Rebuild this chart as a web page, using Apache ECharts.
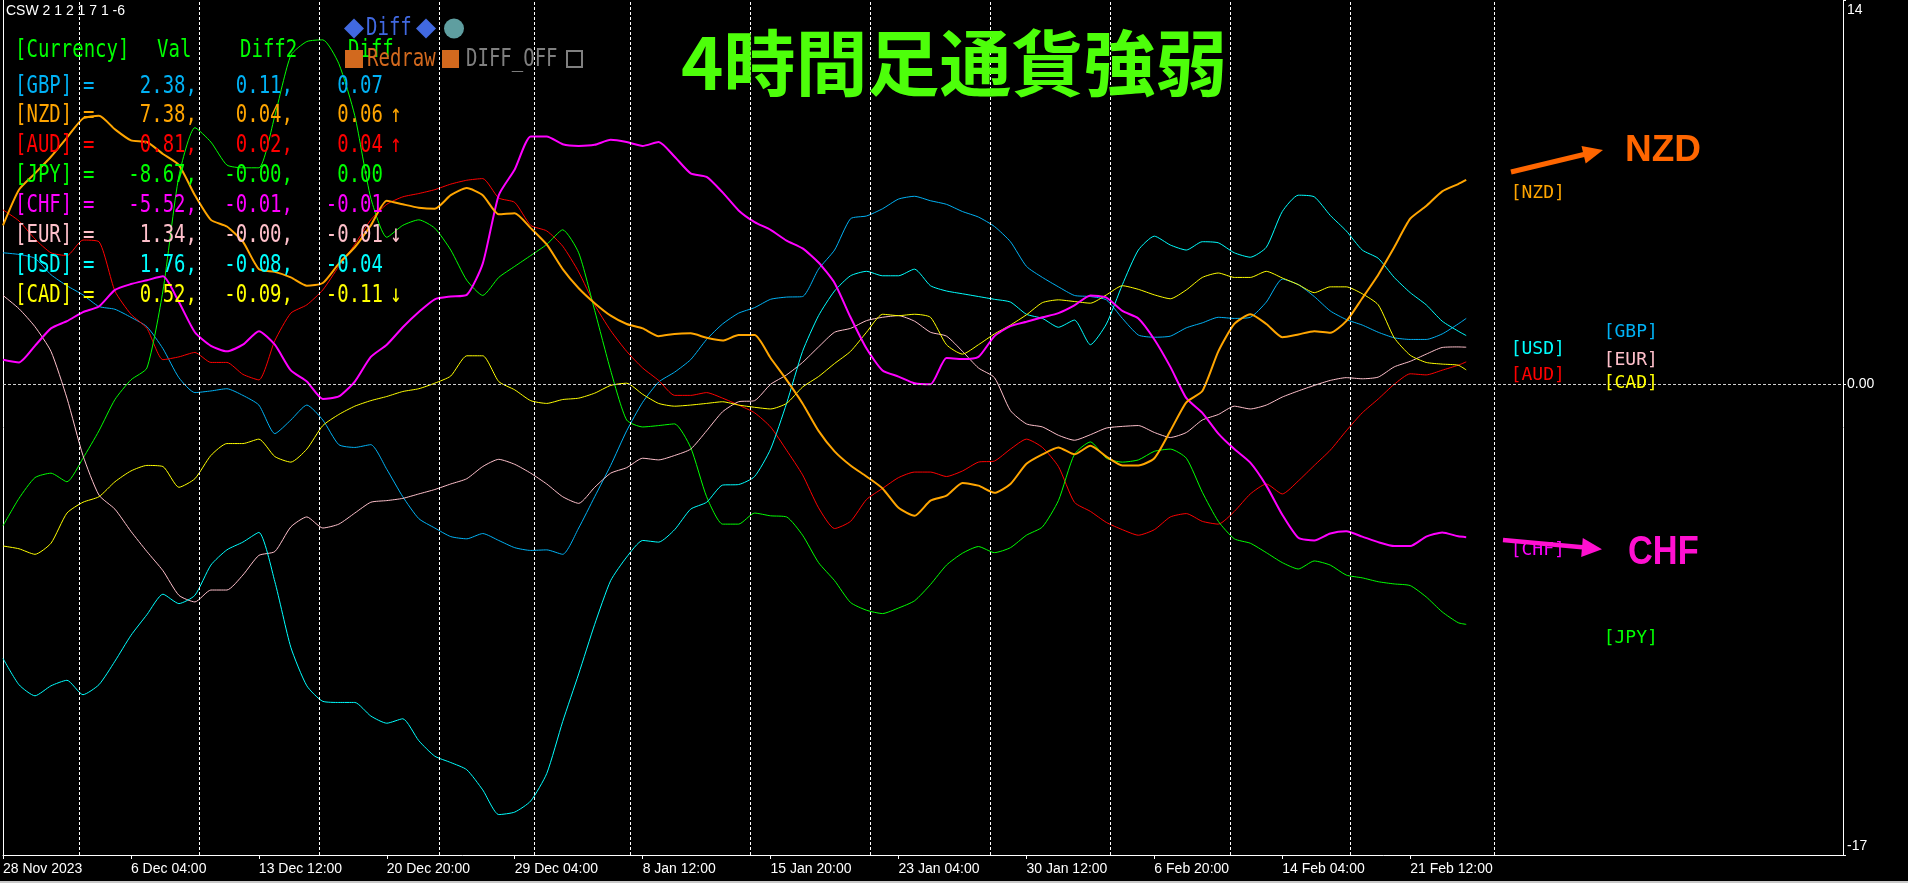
<!DOCTYPE html>
<html><head><meta charset="utf-8">
<script src="https://cdn.jsdelivr.net/npm/echarts@6/dist/echarts.min.js"></script>
<style>html,body{margin:0;padding:0;background:#000;overflow:hidden}#c{width:1908px;height:883px}</style>
</head><body><div id="c"></div>
<script>
// ---- data (bar index of 4h bars, first bar = 28 Nov 20:00) ----
const xBars = [0,4,8,12,16,20,24,28,32,36,40,44,48,52,56,60,64,68,72,76,80,84,88,92,96,100,104,108,112,116,120,124,128,132,136,140,144,148,152,156,160,164,168,172,176,180,184,188,192,196,200,204,208,212,216,220,224,228,232,236,240,244,248,252,256,260,264,268,272,276,280,284,288,292,296,300,304,308,312,316,320,324,328,332,336,340,344,348,352,356,360,364,366];
const xLabels = ['28 Nov 2023','6 Dec 04:00','13 Dec 12:00','20 Dec 20:00','29 Dec 04:00','8 Jan 12:00','15 Jan 20:00','23 Jan 04:00','30 Jan 12:00','6 Feb 20:00','14 Feb 04:00','21 Feb 12:00'];
const labelBars = [0,32,64,96,128,160,192,224,256,288,320,352];
const weekBars = [19,49,79,109,133,157,187,217,247,277,307,337,373];
const yTicks = [-17, 0, 13.88];

const GBP = [4.75,4.69,4.55,3.96,3.56,3.23,2.81,2.71,2.42,2.08,1.29,0.24,-0.30,-0.24,-0.16,-0.40,-0.75,-1.78,-1.29,
 -0.75,-1.29,-2.18,-2.28,-2.18,-3.07,-4.06,-4.85,-5.19,-5.50,-5.58,-5.39,-5.64,-5.90,-6.00,-5.98,-6.14,-5.19,
 -4.06,-2.93,-1.68,-0.65,0.08,0.44,0.89,1.62,2.18,2.57,2.77,3.07,3.15,3.17,4.16,4.85,5.98,6.08,6.34,
 6.69,6.79,6.63,6.50,6.24,6.04,5.70,5.15,4.26,3.86,3.52,3.21,3.17,3.05,2.38,1.78,1.70,1.74,
 2.04,2.22,2.42,2.38,2.42,2.97,3.80,3.60,3.17,2.65,2.34,2.14,1.88,1.68,1.62,1.62,1.82,2.18,2.38];
const NZD = [5.74,7.03,7.62,8.22,8.91,9.60,9.70,9.21,8.81,8.75,8.32,7.92,6.83,5.94,5.70,5.15,4.16,4.06,3.86,
 3.56,3.66,4.36,4.95,5.74,6.63,6.50,6.38,6.34,6.83,7.09,6.83,6.14,6.18,5.64,5.05,4.16,3.47,
 2.93,2.48,2.18,2.02,1.74,1.82,1.84,1.68,1.58,1.78,1.78,0.95,0.16,-0.69,-1.68,-2.42,-2.93,-3.33,-3.76,
 -4.46,-4.75,-4.20,-4.02,-3.56,-3.66,-3.92,-3.60,-2.87,-2.53,-2.28,-2.53,-2.22,-2.61,-2.93,-2.93,-2.67,-1.68,
 -0.65,-0.24,1.19,2.18,2.53,2.18,1.70,1.80,1.92,1.86,2.28,3.11,3.96,4.95,5.98,6.44,6.97,7.23,7.38];
const AUD = [6.30,5.90,5.25,4.75,4.65,5.21,5.15,3.37,2.53,2.02,0.89,0.99,1.15,0.79,0.79,0.36,0.16,1.58,2.57,
 2.87,3.41,4.26,5.05,5.94,6.50,6.77,6.89,7.03,7.23,7.37,7.43,6.73,6.57,5.74,5.54,4.99,4.06,
 2.87,1.94,1.19,0.59,0.14,-0.40,-0.40,-0.30,-0.50,-0.75,-1.03,-1.54,-2.38,-3.27,-4.46,-5.21,-4.95,-4.16,-3.76,
 -3.37,-3.17,-3.17,-3.33,-3.13,-2.81,-2.77,-2.34,-1.98,-2.28,-2.97,-4.26,-4.59,-4.99,-5.25,-5.45,-5.25,-4.79,
 -4.67,-4.95,-5.05,-4.59,-3.96,-3.60,-3.96,-3.49,-2.93,-2.38,-1.68,-1.03,-0.53,0.00,0.38,0.34,0.51,0.69,0.81];
const JPY = [-5.11,-4.12,-3.37,-3.21,-3.52,-2.67,-1.68,-0.55,0.16,0.59,3.37,7.52,9.27,8.75,7.92,7.82,7.82,9.70,11.88,
 12.38,12.44,11.58,9.70,6.73,5.31,5.74,5.94,5.64,4.85,3.76,3.21,3.86,4.26,4.65,5.05,5.58,4.75,
 2.67,0.50,-1.29,-1.54,-1.49,-1.43,-2.28,-4.06,-5.05,-5.05,-4.65,-4.75,-4.79,-5.45,-6.44,-7.09,-7.88,-8.16,-8.28,
 -8.08,-7.82,-7.23,-6.53,-6.10,-5.86,-6.08,-5.90,-5.45,-5.15,-4.20,-2.53,-2.08,-2.67,-2.81,-2.73,-2.42,-2.34,
 -2.67,-3.90,-4.95,-5.58,-5.74,-6.08,-6.44,-6.67,-6.38,-6.53,-6.89,-6.99,-7.13,-7.21,-7.27,-7.68,-8.22,-8.61,-8.67];
const CHF = [0.89,0.79,1.39,2.02,2.28,2.61,2.81,3.41,3.62,3.76,3.90,2.97,1.88,1.39,1.19,1.43,1.92,1.43,0.50,
 0.10,-0.53,-0.44,0.10,0.99,1.43,2.06,2.61,3.07,3.17,3.23,4.36,6.83,7.76,8.95,8.95,8.67,8.61,
 8.65,8.83,8.75,8.61,8.75,8.22,7.62,7.49,6.93,6.28,5.86,5.58,5.19,4.91,4.40,3.66,2.42,1.29,0.50,
 0.28,0.04,0.00,0.95,0.91,0.99,1.74,2.10,2.26,2.42,2.57,2.85,3.21,3.13,2.65,2.38,1.62,0.63,
 -0.50,-1.03,-1.78,-2.34,-2.83,-3.66,-4.71,-5.54,-5.64,-5.39,-5.31,-5.50,-5.70,-5.84,-5.84,-5.50,-5.35,-5.49,-5.52];
const EUR = [3.21,2.73,2.08,1.19,-0.50,-2.57,-4.00,-4.51,-5.31,-6.04,-6.73,-7.62,-7.86,-7.43,-7.43,-6.89,-6.18,-6.04,-5.15,
 -4.79,-5.19,-5.05,-4.65,-4.26,-4.20,-4.12,-3.96,-3.80,-3.60,-3.41,-2.97,-2.71,-2.89,-3.21,-3.60,-4.06,-4.30,
 -3.72,-3.21,-3.01,-2.67,-2.73,-2.57,-2.34,-1.68,-0.99,-0.63,-0.59,0.00,0.34,0.79,1.35,1.88,2.02,2.30,2.42,
 2.48,2.28,1.88,1.74,1.19,0.59,0.24,-0.95,-1.43,-1.54,-1.84,-2.02,-1.82,-1.58,-1.52,-1.49,-1.74,-1.92,
 -1.74,-1.29,-1.09,-0.79,-0.89,-0.75,-0.46,-0.24,-0.04,0.14,0.24,0.20,0.26,0.63,0.83,1.09,1.33,1.35,1.34];
const USD = [-9.90,-10.85,-11.25,-10.89,-10.69,-11.21,-10.85,-10.00,-9.07,-8.32,-7.58,-7.92,-7.62,-6.53,-5.98,-5.70,-5.35,-7.13,-9.50,
 -10.89,-11.45,-11.49,-11.49,-11.98,-12.24,-12.08,-12.87,-13.43,-13.66,-13.92,-14.65,-15.54,-15.45,-15.05,-14.06,-12.18,-10.46,
 -8.67,-7.09,-6.24,-5.64,-5.70,-5.25,-4.51,-4.26,-3.64,-3.62,-3.33,-2.34,-0.69,1.19,2.48,3.37,3.92,4.08,3.92,
 3.92,4.16,3.56,3.37,3.27,3.17,3.07,2.97,2.53,2.38,2.06,2.32,1.43,2.18,3.60,4.85,5.35,5.03,
 4.85,5.15,5.11,4.75,4.59,4.95,6.24,6.83,6.77,6.10,5.54,4.85,4.55,3.86,3.31,2.87,2.28,1.92,1.76];
const CAD = [-5.84,-5.94,-6.14,-5.74,-4.65,-4.26,-4.06,-3.52,-3.13,-2.93,-2.97,-3.72,-3.41,-2.57,-2.14,-2.14,-1.98,-2.61,-2.81,
 -2.34,-1.49,-1.09,-0.79,-0.59,-0.44,-0.26,-0.16,0.04,0.30,1.03,1.03,0.10,-0.20,-0.59,-0.69,-0.55,-0.50,
 -0.32,-0.04,0.04,-0.36,-0.69,-0.79,-0.75,-0.69,-0.63,-0.75,-0.83,-0.89,-0.69,-0.10,0.28,0.75,1.19,1.88,2.53,
 2.48,2.53,2.42,1.43,1.09,1.43,1.82,2.14,2.51,2.95,3.05,2.99,2.93,3.23,3.56,3.43,3.23,3.09,
 3.41,3.86,4.02,3.86,3.86,4.08,3.84,3.60,3.31,3.52,3.52,3.27,2.87,1.68,1.05,0.79,0.73,0.69,0.52];

const tableNames = ['GBP','NZD','AUD','JPY','CHF','EUR','USD','CAD'];
const tableVal   = ['2.38','7.38','0.81','-8.67','-5.52','1.34','1.76','0.52'];
const tableDiff2 = ['0.11','0.04','0.02','-0.00','-0.01','-0.00','-0.08','-0.09'];
const tableDiff  = ['0.07','0.06','0.04','0.00','-0.01','-0.01','-0.04','-0.11'];
const tableArrow = ['','\u2191','\u2191','','','\u2193','','\u2193'];

// ---- styling ----
const seriesValues = {GBP, NZD, AUD, JPY, CHF, EUR, USD, CAD};
const colors = {GBP:'#00B2F5', NZD:'#FFA500', AUD:'#FF0000', JPY:'#00FF00', CHF:'#FF00FF', EUR:'#FFC0CB', USD:'#00FFFF', CAD:'#FFFF00'};
const widths = {NZD:2, CHF:2};
const endLabelBar = {NZD:377.25, USD:377.25, AUD:377.25, CHF:377.25, GBP:400.5, EUR:400.5, CAD:400.5, JPY:400.5};
const drawOrder = ['GBP','AUD','JPY','EUR','USD','CAD','CHF','NZD'];
const mono = '"DejaVu Sans Mono", "Liberation Mono", monospace';
const sans = '"Liberation Sans", Arial, sans-serif';

const series = [{
  type:'line', data:[], z:1, silent:true,
  markLine:{ symbol:'none', silent:true, animation:false, label:{show:false},
    data: weekBars.map(b => ({xAxis:b, lineStyle:{color:'#ffffff', type:[3,2], width:1}}))
      .concat([{yAxis:0, lineStyle:{color:'#cfcfcf', type:[3,2], width:1}}]) }
}];
drawOrder.forEach(cur => {
  const vals = seriesValues[cur];
  series.push({
    name: cur, type:'line', z:2, showSymbol:false, smooth:0.2, silent:true,
    lineStyle:{color:colors[cur], width: widths[cur] || 1},
    data: xBars.map((b,i) => [b, vals[i]]),
    markPoint:{ symbol:'circle', symbolSize:1, silent:true, animation:false,
      itemStyle:{color:'rgba(0,0,0,0)'},
      label:{show:true, position:[0,5], align:'left', verticalAlign:'top', formatter:'['+cur+']',
        color:colors[cur], fontFamily:mono, fontSize:18},
      data:[{coord:[endLabelBar[cur], vals[vals.length-1]]}] }
  });
});

// ---- overlay texts (table, status, title, annotations) ----
const graphics = [];
function txt(x, y, text, color, align, opt) {
  opt = opt || {};
  graphics.push({ type:'text', x:x, y:y, scaleY: opt.scaleY || 1, scaleX: opt.scaleX || 1, z: opt.z || 100, silent:true,
    style:{ text:text, fill:color, fontSize: opt.size || 19, fontFamily: opt.family || mono, fontWeight: opt.weight || 'normal',
      align: align || 'left', textAlign: align || 'left', verticalAlign:'middle', textVerticalAlign:'middle' } });
}
txt(6, 11, 'CSW 2 1 2 1 7 1 -6', '#ffffff', 'left', {family:sans, size:14});
const hy = 50, sy = 1.32;
txt(15, hy, '[Currency]', '#00FF00', 'left', {scaleY:sy});
txt(157, hy, 'Val', '#00FF00', 'left', {scaleY:sy});
txt(240, hy, 'Diff2', '#00FF00', 'left', {scaleY:sy});
txt(348, hy, 'Diff', '#00FF00', 'left', {scaleY:sy});
tableNames.forEach((n, r) => {
  const y = 86 + 29.9 * r, c = colors[n];
  txt(15, y, '['+n+']', c, 'left', {scaleY:sy});
  txt(83, y, '=', c, 'left', {scaleY:sy});
  txt(197, y, tableVal[r]+',', c, 'right', {scaleY:sy});
  txt(293, y, tableDiff2[r]+',', c, 'right', {scaleY:sy});
  txt(383, y, tableDiff[r], c, 'right', {scaleY:sy});
  if (tableArrow[r]) txt(390, y, tableArrow[r], c, 'left', {scaleY:sy});
});
// Diff / Redraw control labels
graphics.push({type:'polygon', z:101, silent:true, shape:{points:[[344,28.5],[354,18.5],[364,28.5],[354,38.5]]}, style:{fill:'#4169E1'}});
txt(366, 28.5, 'Diff', '#4169E1', 'left', {scaleY:sy, z:101});
graphics.push({type:'polygon', z:101, silent:true, shape:{points:[[416,28.5],[426,18.5],[436,28.5],[426,38.5]]}, style:{fill:'#4169E1'}});
graphics.push({type:'circle', z:101, silent:true, shape:{cx:454, cy:28.5, r:10}, style:{fill:'#5F9EA0'}});
graphics.push({type:'rect', z:102, silent:true, shape:{x:345, y:50, width:18, height:18}, style:{fill:'#D2691E'}});
txt(367, 59, 'Redraw', '#D2691E', 'left', {scaleY:sy, z:102});
graphics.push({type:'rect', z:102, silent:true, shape:{x:442, y:50, width:17, height:18}, style:{fill:'#D2691E'}});
txt(466, 59, 'DIFF_OFF', '#808080', 'left', {scaleY:sy, z:102});
graphics.push({type:'rect', z:102, silent:true, shape:{x:567, y:51, width:15, height:16}, style:{fill:'none', stroke:'#808080', lineWidth:2}});
// title
txt(681, 63, '4時間足通貨強弱', '#4DFF0A', 'left', {family:'"Noto Sans CJK JP", sans-serif', size:72, weight:'bold'});
// NZD annotation
graphics.push({type:'line', z:103, silent:true, shape:{x1:1511, y1:172, x2:1588, y2:153.5}, style:{stroke:'#FF6600', lineWidth:5}});
graphics.push({type:'polygon', z:103, silent:true, shape:{points:[[1603,150],[1585.7,163.4],[1581.5,145.9]]}, style:{fill:'#FF6600'}});
txt(1625, 151, 'NZD', '#FF6600', 'left', {family:sans, size:37, weight:'bold', z:103});
// CHF annotation
graphics.push({type:'line', z:103, silent:true, shape:{x1:1503, y1:540, x2:1585, y2:547.6}, style:{stroke:'#FF10D0', lineWidth:4.5}});
graphics.push({type:'polygon', z:103, silent:true, shape:{points:[[1602,549.3],[1581.2,557],[1582.8,538]]}, style:{fill:'#FF10D0'}});
txt(1628, 553, 'CHF', '#FF10D0', 'left', {family:sans, size:40, weight:'bold', scaleX:0.86, z:103});
// window bottom edge
graphics.push({type:'rect', z:50, silent:true, shape:{x:0, y:881, width:1908, height:2}, style:{fill:'#c8c8c8'}});

const yLabelStyle = {color:'#ffffff', fontFamily:sans, fontSize:14};
const option = {
  backgroundColor:'#000000',
  animation:false,
  grid:{left:2, right:65, top:0, bottom:28, containLabel:false},
  xAxis:{ type:'value', min:0, max:460.25,
    axisLine:{show:true, onZero:false, lineStyle:{color:'#ffffff', width:1}},
    axisTick:{show:true, customValues:labelBars, length:4, lineStyle:{color:'#ffffff'}},
    axisLabel:{show:true, customValues:labelBars, align:'left', margin:7, color:'#ffffff', fontFamily:sans, fontSize:14,
      formatter: v => { const k = labelBars.indexOf(Math.round(v)); return k >= 0 ? xLabels[k] : ''; }},
    splitLine:{show:false} },
  yAxis:[{ type:'value', position:'right', min:-17, max:13.88,
    axisLine:{show:true, onZero:false, lineStyle:{color:'#ffffff', width:1}},
    axisTick:{show:true, customValues:yTicks, length:3, lineStyle:{color:'#ffffff'}},
    axisLabel:{show:true, customValues:yTicks, margin:4, color:'#ffffff', fontFamily:sans, fontSize:14,
      formatter: v => v > 13 ? '{t|14}' : (v < -16 ? '{b|-17}' : '{m|0.00}'),
      rich:{ t:Object.assign({padding:[20,0,0,0]}, yLabelStyle), b:Object.assign({padding:[0,0,17,0]}, yLabelStyle), m:yLabelStyle }},
    splitLine:{show:false} },
  { type:'value', position:'left', min:-17, max:13.88,
    axisLine:{show:true, onZero:false, lineStyle:{color:'#ffffff', width:1}},
    axisTick:{show:false}, axisLabel:{show:false}, splitLine:{show:false} }],
  series: series,
  graphic: graphics
};
const chart = echarts.init(document.getElementById('c'), null, {renderer:'canvas'});
chart.setOption(option);
</script></body></html>
